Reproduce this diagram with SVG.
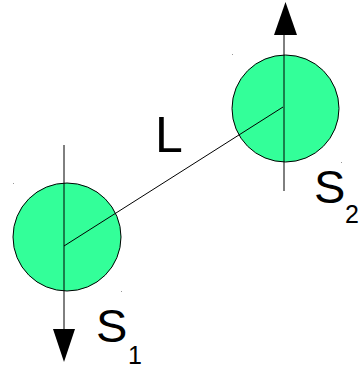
<svg xmlns="http://www.w3.org/2000/svg" width="359" height="369" viewBox="0 0 359 369">
<style>
.ball{fill:#33ff99;stroke:#000;stroke-width:1}
.ln{stroke:#000;stroke-width:1;fill:none}
.lbl{font-family:"Liberation Sans",Arial,sans-serif;fill:#000}
.dot{fill:#999}
</style>
<rect width="359" height="369" fill="#fff"/>
<g id="S1">
<circle class="ball" cx="67" cy="237" r="54"/>
</g>
<g id="S2">
<circle class="ball" cx="285.5" cy="108.5" r="53.5"/>
</g>
<g id="connectors">
<line class="ln" x1="64" y1="145" x2="64" y2="330"/>
<polygon points="53,329 75,329 64,362" fill="#000"/>
<line class="ln" x1="284" y1="34" x2="284" y2="191"/>
<polygon points="274,35 297,35 285.5,2" fill="#000"/>
<line class="ln" x1="64" y1="246" x2="283" y2="107"/>
</g>
<g id="labels">
<text class="lbl" x="155" y="152" font-size="50">L</text>
<text class="lbl" x="96" y="342" font-size="47">S</text>
<text class="lbl" x="128" y="364" font-size="25">1</text>
<text class="lbl" x="314" y="203" font-size="47">S</text>
<text class="lbl" x="345" y="223" font-size="25">2</text>
</g>
<g id="marks">
<rect class="dot" x="13" y="183" width="1" height="1"/>
<rect class="dot" x="121" y="291" width="1" height="1"/>
<rect class="dot" x="232" y="54" width="1" height="1"/>
<rect class="dot" x="341" y="162" width="1" height="1"/>
</g>
</svg>
